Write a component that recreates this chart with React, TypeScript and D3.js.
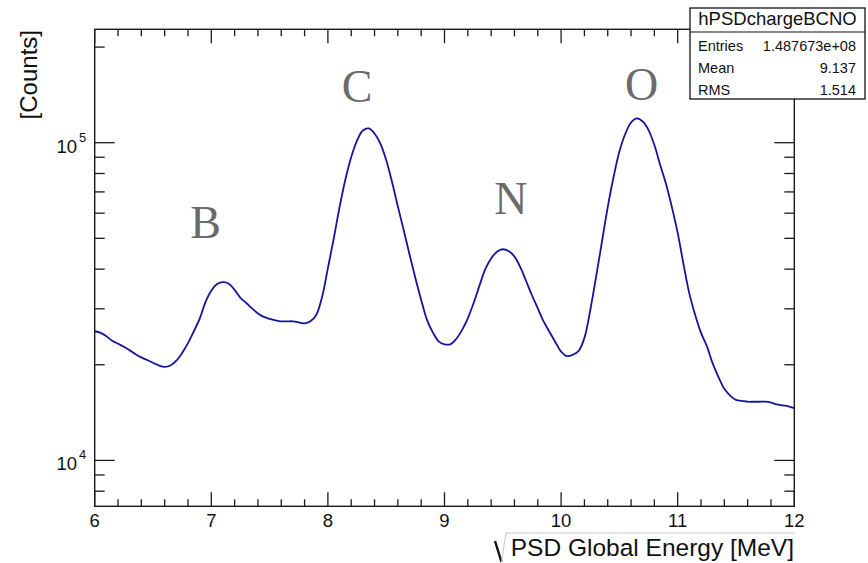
import React from "react";
import * as d3 from "d3";

// Histogram: bin centers (MeV) every 0.05 from 6.00 to 12.00
const energyStart = 6.0;
const energyStep = 0.05;
const counts: number[] = [
  25500, 25200, 24600, 23800, 23300, 22800, 22200, 21600, 21100, 20700,
  20300, 19900, 19700, 19900, 20600, 21800, 23400, 25500, 27900, 31500,
  34200, 35900, 36400, 36000, 34400, 32500, 31300, 30100, 29000, 28300,
  27900, 27600, 27400, 27400, 27400, 27200, 27000, 27400, 28700, 32700,
  40300, 49900, 62700, 76600, 90200, 101600, 109300, 110900, 106900, 99400,
  88200, 75200, 63000, 53100, 44500, 37500, 32000, 27700, 25300, 23700,
  23200, 23200, 24100, 25700, 28000, 31300, 35500, 40000, 43200, 45400,
  46200, 45600, 43800, 40600, 36700, 33100, 30100, 27400, 25400, 23600,
  22000, 21300, 21500, 22100, 24300, 29700, 37800, 48700, 62700, 78000,
  93800, 106500, 115800, 119300, 116600, 109600, 98300, 85100, 74100, 62700,
  52000, 41400, 33500, 28700, 25200, 22900, 20200, 18300, 16800, 16000,
  15500, 15400, 15300, 15300, 15300, 15300, 15200, 15000, 14900, 14800,
  14600,
];

const xDomain: [number, number] = [6, 12];
const yDomain: [number, number] = [7170, 227500];
const xMajorTicks = [6, 7, 8, 9, 10, 11, 12];
const yDecadeTicks = [1e4, 1e5];
const yDecadeExp = ["4", "5"];

const peakNames = ["B", "C", "N", "O"];
const peakEnergy = [6.95, 8.25, 9.57, 10.69];
const peakLabelCounts = [50100, 134300, 59600, 136300];

const statsTitle = "hPSDchargeBCNO";
const statsNames = ["Entries", "Mean", "RMS"];
const statsValues = ["1.487673e+08", "9.137", "1.514"];

const W = 868;
const H = 563;
const L = 94.7;
const R = 794.3;
const T = 29.3;
const B = 506.3;

export default function App() {
  const x = d3.scaleLinear().domain(xDomain).range([L, R]);
  const y = d3.scaleLog().domain(yDomain).range([B, T]);

  const data = counts.map((c, i) => ({ e: energyStart + i * energyStep, c }));
  const line = d3
    .line<{ e: number; c: number }>()
    .x((d) => x(d.e))
    .y((d) => y(d.c))
    .curve(d3.curveCatmullRom.alpha(0.5));

  const minorX: number[] = [];
  for (let v = 6; v <= 12.0001; v += 0.2) {
    const r = Math.round(v * 10) / 10;
    if (Math.abs(r - Math.round(r)) > 1e-6) minorX.push(r);
  }
  const minorY: number[] = [];
  for (let dec = 1e3; dec <= 1e5; dec *= 10) {
    for (let m = 2; m <= 9; m++) {
      const v = m * dec;
      if (v >= yDomain[0] && v <= yDomain[1]) minorY.push(v);
    }
  }

  const axisColor = "#1a1a1a";
  const sans = "'Liberation Sans', Arial, Helvetica, sans-serif";
  const serif = "'Liberation Serif', 'Times New Roman', serif";

  return (
    <svg
      width={W}
      height={H}
      style={{ position: "absolute", left: 0, top: 0, background: "#fff" }}
    >
      <rect x={0} y={0} width={W} height={H} fill="#fff" />
      {/* curve */}
      <path
        d={line(data) || ""}
        fill="none"
        stroke="#15159a"
        strokeWidth={1.8}
        strokeLinejoin="round"
      />
      {/* frame */}
      <rect x={L} y={T} width={R - L} height={B - T} fill="none" stroke={axisColor} strokeWidth={1.4} />
      {/* x ticks bottom & top */}
      {xMajorTicks.map((v) => (
        <g key={"xm" + v}>
          <line x1={x(v)} x2={x(v)} y1={B} y2={B - 14} stroke={axisColor} strokeWidth={1.3} />
          <line x1={x(v)} x2={x(v)} y1={T} y2={T + 14} stroke={axisColor} strokeWidth={1.3} />
          <text x={x(v)} y={526.7} textAnchor="middle" fontFamily={sans} fontSize={18.5} fill="#111">
            {v}
          </text>
        </g>
      ))}
      {minorX.map((v) => (
        <g key={"xn" + v}>
          <line x1={x(v)} x2={x(v)} y1={B} y2={B - 7} stroke={axisColor} strokeWidth={1.3} />
          <line x1={x(v)} x2={x(v)} y1={T} y2={T + 7} stroke={axisColor} strokeWidth={1.3} />
        </g>
      ))}
      {/* y ticks left & right */}
      {yDecadeTicks.map((v, i) => (
        <g key={"yd" + v}>
          <line x1={L} x2={L + 20} y1={y(v)} y2={y(v)} stroke={axisColor} strokeWidth={1.3} />
          <line x1={R} x2={R - 20} y1={y(v)} y2={y(v)} stroke={axisColor} strokeWidth={1.3} />
          <text x={77} y={y(v) + 10} textAnchor="end" fontFamily={sans} fontSize={18.5} fill="#111">
            10
          </text>
          <text x={79} y={y(v) - 1} textAnchor="start" fontFamily={sans} fontSize={13} fill="#111">
            {yDecadeExp[i]}
          </text>
        </g>
      ))}
      {minorY.map((v) => (
        <g key={"yn" + v}>
          <line x1={L} x2={L + 10} y1={y(v)} y2={y(v)} stroke={axisColor} strokeWidth={1.3} />
          <line x1={R} x2={R - 10} y1={y(v)} y2={y(v)} stroke={axisColor} strokeWidth={1.3} />
        </g>
      ))}
      {/* axis titles */}
      <text
        transform={`translate(37,30) rotate(-90)`}
        textAnchor="end"
        fontFamily={sans}
        fontSize={24}
        fill="#111"
      >
        [Counts]
      </text>
      <path d="M495,541 L501.5,562" stroke="#111" strokeWidth={2.4} fill="none" />
      <path d="M501.5,562 L506,533 L795,533" stroke="#c8c8c8" strokeWidth={1} fill="none" />
      <text x={794} y={556} textAnchor="end" fontFamily={sans} fontSize={24.5} fill="#111">
        PSD Global Energy [MeV]
      </text>
      {/* peak labels */}
      {peakNames.map((n, i) => (
        <text
          key={n}
          x={x(peakEnergy[i])}
          y={y(peakLabelCounts[i])}
          textAnchor="middle"
          fontFamily={serif}
          fontSize={46}
          fill="#6b6b6b"
        >
          {n}
        </text>
      ))}
      {/* stats box */}
      <rect x={690} y={8} width={175} height={91} fill="#fff" stroke="#111" strokeWidth={1.3} />
      <line x1={690} x2={865} y1={32} y2={32} stroke="#111" strokeWidth={1.2} />
      <text x={777.5} y={25} textAnchor="middle" fontFamily={sans} fontSize={18.5} fill="#111">
        {statsTitle}
      </text>
      {statsNames.map((n, i) => (
        <g key={n}>
          <text x={698} y={51 + i * 22} fontFamily={sans} fontSize={14.5} fill="#111">
            {n}
          </text>
          <text x={856} y={51 + i * 22} textAnchor="end" fontFamily={sans} fontSize={14.5} fill="#111">
            {statsValues[i]}
          </text>
        </g>
      ))}
    </svg>
  );
}
